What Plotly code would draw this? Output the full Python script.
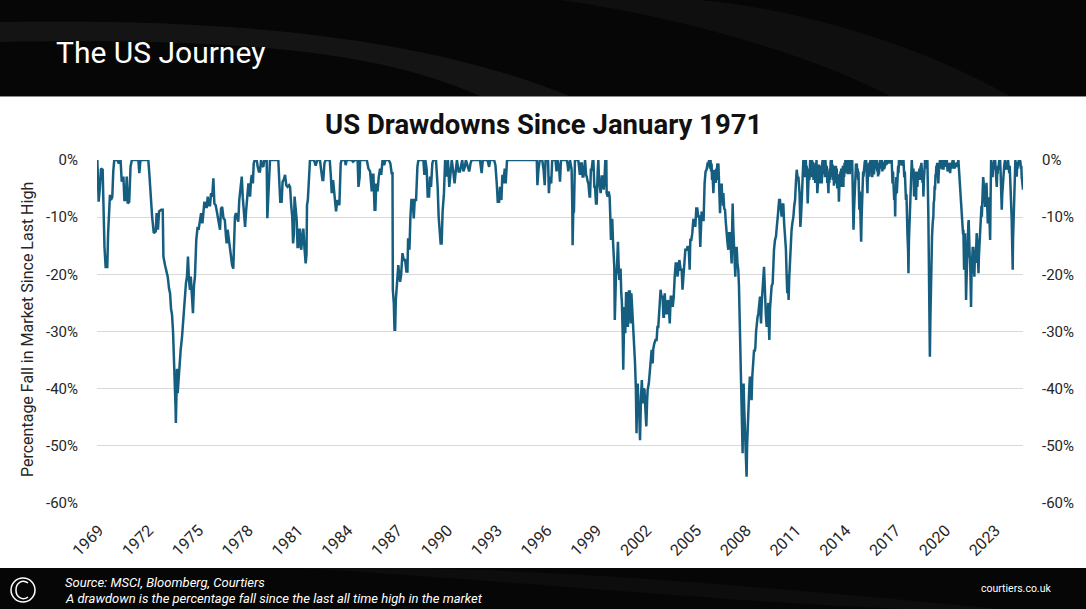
import plotly.graph_objects as go

# drawdown readings (year on the chart's axis, % fall from last high)
dd_1969_1983 = [
    (1968.90, 0.0), (1968.98, -7.3), (1969.05, -5.0), (1969.12, -1.5), (1969.22, -1.7), (1969.28, -9.9),
    (1969.33, -15.2), (1969.40, -18.7), (1969.50, -18.7), (1969.55, -12.8), (1969.60, -9.0), (1969.66, -6.1),
    (1969.72, -7.0), (1969.80, -6.5), (1969.86, -2.0), (1969.92, 0.0), (1970.10, 0.0), (1970.20, -0.6),
    (1970.30, 0.0), (1970.37, -3.8), (1970.47, -2.9), (1970.53, -7.0), (1970.61, -7.0), (1970.67, -2.9),
    (1970.73, -7.6), (1970.82, -7.3), (1970.90, -1.2), (1970.98, 0.0), (1971.37, 0.0), (1971.43, -2.3),
    (1971.50, 0.0), (1971.97, 0.0), (1972.03, -2.3), (1972.13, -7.0), (1972.20, -9.9), (1972.30, -12.8),
    (1972.42, -12.5), (1972.47, -9.3), (1972.55, -12.2), (1972.62, -9.0), (1972.75, -8.7), (1972.84, -8.7),
    (1972.88, -16.9), (1972.98, -18.4), (1973.06, -19.5), (1973.14, -20.4), (1973.22, -22.5), (1973.28, -23.3),
    (1973.34, -26.0), (1973.40, -27.1), (1973.46, -30.0), (1973.50, -32.9), (1973.56, -36.7), (1973.61, -43.1),
    (1973.63, -46.0), (1973.66, -37.9), (1973.70, -36.5), (1973.74, -40.8), (1973.80, -38.0), (1973.86, -36.7),
    (1973.92, -33.2), (1974.00, -31.0), (1974.04, -29.2), (1974.12, -26.0), (1974.18, -23.9), (1974.24, -21.5),
    (1974.30, -20.4), (1974.36, -16.9), (1974.42, -21.0), (1974.48, -22.7), (1974.53, -20.4), (1974.60, -24.0),
    (1974.66, -26.8), (1974.72, -22.0), (1974.78, -20.4), (1974.86, -14.0), (1974.94, -11.7), (1975.00, -12.2),
    (1975.08, -10.0), (1975.15, -9.3), (1975.23, -11.1), (1975.30, -9.0), (1975.35, -7.3), (1975.42, -8.2),
    (1975.49, -8.2), (1975.55, -6.4), (1975.62, -7.9), (1975.69, -7.9), (1975.75, -5.8), (1975.82, -6.4),
    (1975.89, -3.2), (1975.95, -7.6), (1976.03, -7.9), (1976.10, -9.0), (1976.15, -9.9), (1976.22, -11.0),
    (1976.29, -12.2), (1976.35, -8.5), (1976.42, -8.2), (1976.50, -10.2), (1976.58, -10.5), (1976.64, -13.0),
    (1976.69, -14.6), (1976.75, -12.2), (1976.82, -14.0), (1976.89, -15.7), (1976.95, -16.9), (1977.02, -18.4),
    (1977.09, -19.0), (1977.15, -15.0), (1977.19, -9.9), (1977.25, -9.3), (1977.32, -10.0), (1977.39, -10.8),
    (1977.45, -7.0), (1977.49, -5.5), (1977.55, -3.5), (1977.60, -2.9), (1977.66, -6.5), (1977.72, -8.2),
    (1977.80, -11.7), (1977.86, -9.0), (1977.92, -7.0), (1978.00, -4.1), (1978.06, -5.2), (1978.10, -6.4),
    (1978.16, -3.5), (1978.20, -2.6), (1978.27, -4.1), (1978.32, -0.6), (1978.38, 0.0), (1978.50, 0.0),
    (1978.56, -1.2), (1978.63, -2.0), (1978.70, -2.0), (1978.76, 0.0), (1978.84, -1.0), (1978.90, -1.2),
    (1978.96, 0.0), (1979.10, 0.0), (1979.14, -10.2), (1979.20, -6.0), (1979.24, -1.2), (1979.30, 0.0),
    (1979.80, 0.0), (1979.86, -3.5), (1979.92, -7.3), (1980.00, -7.3), (1980.06, -3.8), (1980.12, -3.5),
    (1980.21, -2.6), (1980.28, -4.4), (1980.36, -4.7), (1980.45, -4.4), (1980.51, -4.7), (1980.58, -8.0),
    (1980.64, -9.9), (1980.69, -14.6), (1980.74, -13.0), (1980.78, -6.4), (1980.84, -8.0), (1980.91, -10.5),
    (1980.96, -15.2), (1981.01, -15.2), (1981.06, -12.2), (1981.11, -12.2), (1981.18, -15.7), (1981.24, -14.0),
    (1981.31, -12.0), (1981.38, -15.5), (1981.45, -18.1), (1981.50, -16.5), (1981.53, -7.9), (1981.58, -7.0),
    (1981.65, -4.0), (1981.71, 0.0), (1981.95, 0.0), (1982.05, -1.0), (1982.15, 0.0), (1982.31, 0.0),
    (1982.38, -1.7), (1982.46, -3.5), (1982.51, -3.5), (1982.58, -0.6), (1982.65, 0.0), (1982.90, 0.0),
    (1982.97, -3.0), (1983.02, -5.8), (1983.10, -3.5), (1983.18, -6.1), (1983.22, -6.1), (1983.28, -9.0),
    (1983.36, -7.0), (1983.48, -7.9),
]

dd_1983_1996 = [
    (1983.56, -0.6), (1983.62, 0.0), (1983.82, 0.0), (1983.86, -0.9), (1983.92, 0.0), (1984.22, 0.0),
    (1984.30, -0.3), (1984.43, 0.0), (1984.58, 0.0), (1984.63, -4.7), (1984.70, -3.0), (1984.73, 0.0),
    (1985.13, 0.0), (1985.23, -1.5), (1985.33, -2.0), (1985.40, -5.5), (1985.43, -5.5), (1985.48, -2.6),
    (1985.53, -2.6), (1985.60, -8.7), (1985.65, -8.7), (1985.70, -4.1), (1985.78, -5.5), (1985.85, -3.0),
    (1985.93, -1.5), (1986.00, -2.6), (1986.08, 0.0), (1986.18, -0.9), (1986.25, 0.0), (1986.45, 0.0),
    (1986.55, -0.6), (1986.63, -2.3), (1986.68, -2.3), (1986.70, -22.7), (1986.76, -25.1), (1986.80, -29.7),
    (1986.84, -29.7), (1986.88, -24.5), (1986.94, -22.0), (1986.98, -21.6), (1987.03, -18.4), (1987.08, -20.0),
    (1987.14, -21.3), (1987.20, -20.1), (1987.28, -16.3), (1987.36, -17.5), (1987.44, -17.5), (1987.52, -19.5),
    (1987.58, -19.5), (1987.62, -13.7), (1987.70, -15.7), (1987.76, -9.9), (1987.82, -7.0), (1987.90, -7.0),
    (1987.96, -10.2), (1988.02, -7.0), (1988.10, -7.0), (1988.18, -1.2), (1988.24, 0.0), (1988.54, 0.0),
    (1988.60, -2.6), (1988.66, 0.0), (1988.74, -1.7), (1988.80, -6.4), (1988.88, -6.4), (1988.94, -2.9),
    (1989.00, -4.7), (1989.08, -0.6), (1989.14, 0.0), (1989.30, 0.0), (1989.40, -4.7), (1989.46, -9.9),
    (1989.52, -13.4), (1989.58, -14.6), (1989.64, -14.6), (1989.70, -9.0), (1989.78, -5.8), (1989.85, 0.0),
    (1989.95, -2.9), (1990.02, 0.0), (1990.10, -4.7), (1990.18, -2.0), (1990.25, 0.0), (1990.35, -2.3),
    (1990.42, -4.1), (1990.50, -1.7), (1990.56, 0.0), (1990.66, -2.0), (1990.74, -2.0), (1990.80, -1.2),
    (1990.88, 0.0), (1990.95, -2.0), (1991.04, -1.2), (1991.10, 0.0), (1991.30, -2.0), (1991.38, -0.6),
    (1991.45, 0.0), (1991.95, 0.0), (1992.05, -2.3), (1992.12, 0.0), (1992.40, 0.0), (1992.50, -1.2),
    (1992.56, 0.0), (1992.80, 0.0), (1992.88, -0.9), (1992.96, -4.1), (1993.02, -7.3), (1993.10, -7.3),
    (1993.16, -4.7), (1993.24, -7.0), (1993.30, -2.6), (1993.36, -4.1), (1993.44, -1.5), (1993.50, -4.1),
    (1993.58, 0.0), (1995.37, 0.0), (1995.41, -4.4), (1995.47, -1.7), (1995.55, 0.0), (1995.70, 0.0),
    (1995.78, -1.7), (1995.85, -4.4), (1995.90, 0.0), (1996.05, 0.0), (1996.10, -5.8), (1996.16, -2.9),
    (1996.24, -4.1), (1996.30, 0.0), (1996.50, 0.0), (1996.56, -2.0), (1996.62, 0.0),
]

dd_1996_2011 = [
    (1996.72, -1.5), (1996.77, -3.8), (1996.83, 0.0), (1997.17, 0.0), (1997.22, -0.6), (1997.27, -2.0),
    (1997.37, 0.0), (1997.47, -1.7), (1997.51, -8.0), (1997.53, -14.9), (1997.57, -9.0), (1997.61, -9.0),
    (1997.67, 0.0), (1997.87, 0.0), (1997.97, -2.6), (1998.03, -0.6), (1998.08, -0.6), (1998.13, -2.9),
    (1998.18, -2.9), (1998.24, 0.0), (1998.28, 0.0), (1998.34, -2.6), (1998.38, -2.9), (1998.44, -3.8),
    (1998.48, -4.1), (1998.55, -6.4), (1998.58, -6.4), (1998.63, -1.7), (1998.68, -1.7), (1998.74, 0.0),
    (1998.78, 0.0), (1998.84, -4.7), (1998.88, -4.7), (1998.94, -7.6), (1998.98, -7.6), (1999.04, -2.0),
    (1999.08, 0.0), (1999.12, -3.5), (1999.18, -5.8), (1999.22, -5.8), (1999.28, -2.9), (1999.34, -2.9),
    (1999.40, -5.2), (1999.44, -4.0), (1999.50, 0.0), (1999.56, 0.0), (1999.58, -5.8), (1999.64, -6.4),
    (1999.70, -5.5), (1999.76, -6.4), (1999.80, -9.9), (1999.84, -14.0), (1999.88, -10.5), (1999.92, -10.5),
    (1999.96, -14.0), (1999.99, -16.3), (2000.04, -18.7), (2000.07, -28.0), (2000.10, -24.0), (2000.14, -20.4),
    (2000.20, -19.0), (2000.26, -14.3), (2000.30, -18.0), (2000.34, -21.0), (2000.38, -19.2), (2000.42, -19.2),
    (2000.46, -23.3), (2000.50, -25.0), (2000.55, -30.9), (2000.58, -36.7), (2000.62, -30.0), (2000.65, -25.7),
    (2000.70, -30.3), (2000.75, -23.3), (2000.80, -23.3), (2000.86, -29.2), (2000.92, -23.0), (2000.98, -23.0),
    (2001.03, -28.6), (2001.07, -23.3), (2001.12, -26.0), (2001.19, -29.7), (2001.25, -33.0), (2001.29, -35.6),
    (2001.34, -40.0), (2001.38, -47.8), (2001.42, -41.0), (2001.45, -39.1), (2001.50, -43.1), (2001.55, -45.0),
    (2001.59, -49.0), (2001.62, -43.0), (2001.65, -41.4), (2001.70, -38.5), (2001.75, -42.6), (2001.80, -40.0),
    (2001.86, -40.2), (2001.92, -44.0), (2001.97, -46.6), (2002.02, -42.0), (2002.05, -40.2), (2002.12, -39.1),
    (2002.18, -37.0), (2002.23, -35.6), (2002.29, -33.2), (2002.35, -35.6), (2002.39, -33.0), (2002.45, -32.1),
    (2002.52, -31.5), (2002.59, -31.5), (2002.64, -29.2), (2002.69, -29.2), (2002.75, -25.7), (2002.79, -25.7),
    (2002.83, -22.7), (2002.88, -23.9), (2002.95, -23.9), (2003.00, -27.4), (2003.03, -27.4), (2003.08, -23.3),
    (2003.14, -26.8), (2003.20, -26.8), (2003.26, -24.5), (2003.32, -25.0), (2003.38, -28.6), (2003.44, -23.9),
    (2003.50, -23.9), (2003.56, -25.7), (2003.62, -24.0), (2003.68, -20.4), (2003.74, -18.1), (2003.80, -18.1),
    (2003.85, -20.4), (2003.90, -19.0), (2003.96, -17.5), (2004.04, -19.2), (2004.10, -19.2), (2004.15, -22.7),
    (2004.20, -21.0), (2004.26, -18.1), (2004.32, -15.7), (2004.40, -15.7), (2004.45, -15.2), (2004.52, -15.2),
    (2004.58, -19.2), (2004.62, -14.0), (2004.68, -14.0), (2004.74, -12.8), (2004.80, -10.5), (2004.86, -10.5),
    (2004.92, -11.7), (2004.98, -8.5), (2005.04, -8.5), (2005.10, -9.9), (2005.16, -9.9), (2005.22, -15.2),
    (2005.26, -9.0), (2005.30, -9.0), (2005.36, -10.5), (2005.42, -10.5), (2005.48, -4.1), (2005.54, -2.0),
    (2005.60, -1.7), (2005.66, -0.6), (2005.71, -0.6), (2005.76, 0.0), (2005.80, -1.5), (2005.84, 0.0),
    (2005.87, -2.0), (2005.90, -0.6), (2005.93, -3.5), (2005.96, -2.5), (2006.01, -5.8), (2006.04, -3.0),
    (2006.06, -1.7), (2006.09, -3.5), (2006.11, -1.7), (2006.14, -4.0), (2006.16, -3.5), (2006.19, -1.5),
    (2006.21, -3.5), (2006.24, -1.0), (2006.26, -0.6), (2006.29, -2.5), (2006.31, -0.6), (2006.34, -3.0),
    (2006.36, -5.0), (2006.41, -9.3), (2006.44, -6.0), (2006.46, -4.1), (2006.49, -6.5), (2006.51, -4.1),
    (2006.54, -7.0), (2006.56, -5.8), (2006.59, -8.0), (2006.61, -5.8), (2006.66, -8.5), (2006.71, -8.7),
    (2006.76, -11.0), (2006.81, -13.4), (2006.86, -14.5), (2006.91, -15.7), (2006.96, -12.8), (2007.01, -12.8),
    (2007.06, -16.0), (2007.11, -18.1), (2007.14, -12.0), (2007.17, -7.6), (2007.21, -12.0), (2007.25, -15.2),
    (2007.29, -18.0), (2007.33, -20.4), (2007.37, -16.0), (2007.41, -15.2), (2007.46, -18.0), (2007.51, -19.2),
    (2007.55, -22.0), (2007.57, -24.5), (2007.61, -33.2), (2007.65, -36.0), (2007.67, -39.1), (2007.71, -44.9),
    (2007.75, -48.0), (2007.77, -51.3), (2007.80, -42.0), (2007.83, -39.1), (2007.87, -43.7), (2007.91, -46.6),
    (2007.96, -50.0), (2008.01, -55.4), (2008.04, -50.0), (2008.07, -46.6), (2008.10, -44.0), (2008.13, -42.6),
    (2008.17, -40.0), (2008.21, -37.9), (2008.26, -40.5), (2008.31, -42.0), (2008.35, -38.0), (2008.38, -36.2),
    (2008.42, -34.0), (2008.46, -33.2), (2008.50, -33.5), (2008.54, -32.7), (2008.58, -30.0), (2008.62, -28.6),
    (2008.67, -27.5), (2008.72, -26.8), (2008.77, -25.0), (2008.82, -23.9), (2008.85, -27.0), (2008.88, -28.6),
    (2008.92, -25.0), (2008.96, -23.3), (2009.01, -20.5), (2009.06, -18.7), (2009.09, -21.0), (2009.12, -24.5),
    (2009.17, -27.0), (2009.22, -29.2), (2009.27, -26.0), (2009.32, -25.0), (2009.35, -29.0), (2009.38, -31.5),
    (2009.42, -26.0), (2009.46, -23.9), (2009.52, -22.0), (2009.58, -21.6), (2009.62, -18.0), (2009.66, -15.7),
    (2009.72, -14.0), (2009.78, -13.4), (2009.82, -12.0), (2009.86, -11.1), (2009.90, -9.5), (2009.92, -8.7),
    (2009.97, -7.0), (2010.02, -7.0), (2010.07, -9.5), (2010.12, -9.9), (2010.17, -8.0), (2010.22, -7.6),
    (2010.27, -11.0), (2010.32, -12.8), (2010.35, -14.5), (2010.38, -15.7), (2010.42, -20.0), (2010.46, -23.3),
    (2010.50, -20.0), (2010.54, -24.5), (2010.58, -20.5), (2010.62, -17.5), (2010.67, -14.0), (2010.72, -12.2),
    (2010.77, -11.0), (2010.83, -9.9), (2010.88, -8.0), (2010.93, -7.0), (2010.98, -4.0), (2011.03, -1.7),
    (2011.08, -3.0), (2011.13, -2.9),
]

dd_2011_2024 = [
    (2011.20, -5.8), (2011.25, -11.7), (2011.30, -9.3), (2011.33, -7.6), (2011.38, -3.0), (2011.43, 0.0),
    (2011.46, -2.5), (2011.48, -0.5), (2011.51, -3.0), (2011.53, -1.0), (2011.56, -2.0), (2011.58, 0.0),
    (2011.61, -2.5), (2011.63, -1.0), (2011.66, -4.0), (2011.69, -7.6), (2011.72, -5.0), (2011.74, -3.5),
    (2011.77, -1.5), (2011.79, -3.5), (2011.82, -1.0), (2011.84, 0.0), (2011.87, -2.5), (2011.90, -0.5),
    (2011.93, -3.0), (2011.95, 0.0), (2011.98, -2.0), (2012.00, -0.3), (2012.04, -3.5), (2012.07, -0.8),
    (2012.09, -3.0), (2012.12, -1.0), (2012.14, -4.0), (2012.17, -0.5), (2012.19, -2.0), (2012.22, 0.0),
    (2012.24, -2.5), (2012.27, -5.8), (2012.30, -4.5), (2012.33, -1.5), (2012.35, -3.5), (2012.38, -0.8),
    (2012.40, -3.2), (2012.43, -1.0), (2012.45, -4.1), (2012.48, -1.5), (2012.50, -3.8), (2012.52, -1.0),
    (2012.54, -4.1), (2012.57, -0.5), (2012.59, 0.0), (2012.62, -2.0), (2012.64, 0.0), (2012.67, -2.5),
    (2012.70, -0.5), (2012.73, -3.0), (2012.76, 0.0), (2012.80, -2.5), (2012.84, -1.0), (2012.87, -4.0),
    (2012.89, -2.0), (2012.92, -4.5), (2012.94, -5.8), (2012.97, -2.0), (2012.99, -4.0), (2013.02, -1.5),
    (2013.04, -3.5), (2013.07, -0.5), (2013.09, 0.0), (2013.12, -2.5), (2013.14, 0.0), (2013.17, -3.0),
    (2013.19, -0.8), (2013.22, -3.5), (2013.24, -1.0), (2013.27, -4.5), (2013.29, -2.0), (2013.32, -4.1),
    (2013.34, -1.5), (2013.37, -3.8), (2013.39, -1.0), (2013.42, -4.0), (2013.44, -1.5), (2013.47, -5.0),
    (2013.49, -2.5), (2013.52, -4.7), (2013.54, -3.0), (2013.57, -7.3), (2013.60, -5.0), (2013.62, -2.5),
    (2013.64, -4.5), (2013.66, -2.0), (2013.68, -4.1), (2013.71, -1.5), (2013.74, -4.7), (2013.76, -2.0),
    (2013.79, -4.7), (2013.81, -1.0), (2013.84, -4.7), (2013.86, -1.5), (2013.89, -3.0), (2013.91, -0.5),
    (2013.94, -2.3), (2013.96, 0.0), (2013.99, -1.5), (2014.02, 0.0), (2014.04, -2.0), (2014.07, 0.0),
    (2014.10, -2.5), (2014.13, 0.0), (2014.16, -1.5), (2014.19, 0.0), (2014.22, -2.5), (2014.25, 0.0),
    (2014.28, -1.5), (2014.31, 0.0), (2014.34, -2.0), (2014.37, 0.0), (2014.40, -5.0), (2014.45, -12.2),
    (2014.48, -9.0), (2014.50, -6.0), (2014.53, -8.2), (2014.55, -4.0), (2014.58, -2.0), (2014.60, -0.6),
    (2014.63, -2.5), (2014.65, -0.6), (2014.68, -3.0), (2014.70, -1.5), (2014.73, -3.5), (2014.75, -2.0),
    (2014.78, -6.0), (2014.80, -8.7), (2014.83, -5.5), (2014.85, -8.7), (2014.88, -12.0), (2014.91, -14.3),
    (2014.94, -10.0), (2014.96, -8.0), (2014.99, -4.0), (2015.01, -5.8), (2015.03, -2.0), (2015.05, -2.9),
    (2015.07, -1.0), (2015.09, -2.9), (2015.12, -0.5), (2015.15, 0.0), (2015.18, -2.0), (2015.21, 0.0),
    (2015.25, -2.0), (2015.29, -5.8), (2015.32, -2.0), (2015.35, -2.9), (2015.38, -0.5), (2015.41, -2.9),
    (2015.44, -0.5), (2015.48, 0.0), (2015.51, -2.0), (2015.55, 0.0), (2015.58, -3.0), (2015.60, -0.8),
    (2015.63, -2.3), (2015.65, 0.0), (2015.68, -2.5), (2015.70, -0.5), (2015.73, -1.5), (2015.75, 0.0),
    (2015.78, -1.5), (2015.80, 0.0), (2015.83, -1.2), (2015.85, 0.0), (2015.88, -2.0), (2015.90, -0.5),
    (2015.93, -2.9), (2015.95, -1.0), (2015.98, -2.5), (2016.00, -0.5), (2016.03, -1.7), (2016.05, 0.0),
    (2016.08, -1.5), (2016.10, 0.0), (2016.13, -1.0), (2016.15, 0.0), (2016.19, -2.0), (2016.22, -0.5),
    (2016.26, -1.7), (2016.29, -0.3), (2016.32, -1.5), (2016.35, 0.0), (2016.38, -1.0), (2016.41, 0.0),
    (2016.45, -0.8), (2016.48, 0.0), (2016.55, 0.0), (2016.60, -0.6), (2016.65, 0.0), (2016.75, 0.0),
    (2016.78, -2.5), (2016.80, -4.1), (2016.83, -2.0), (2016.85, -4.1), (2016.88, -5.0), (2016.90, -7.0),
    (2016.93, -5.0), (2016.96, -9.9), (2016.98, -6.0), (2017.01, -5.8), (2017.03, -3.0), (2017.06, -5.8),
    (2017.09, -2.0), (2017.11, -3.5), (2017.14, -1.0), (2017.16, -2.3), (2017.19, 0.0), (2017.21, -1.0),
    (2017.26, 0.0), (2017.31, -0.8), (2017.36, 0.0), (2017.41, -1.0), (2017.46, 0.0), (2017.49, -1.5),
    (2017.51, -3.0), (2017.54, -2.0), (2017.56, -5.2), (2017.59, -3.5), (2017.61, -7.0), (2017.64, -6.0),
    (2017.66, -9.9), (2017.70, -13.0), (2017.74, -16.0), (2017.76, -19.8), (2017.79, -14.0), (2017.81, -12.0),
    (2017.84, -8.0), (2017.86, -7.0), (2017.89, -4.0), (2017.91, -3.0), (2017.94, -1.0), (2017.96, 0.0),
    (2018.00, -2.0), (2018.03, -3.0), (2018.06, -1.5), (2018.10, -6.4), (2018.13, -3.0), (2018.16, -4.0),
    (2018.19, -2.0), (2018.22, -7.0), (2018.24, -4.0), (2018.26, -4.7), (2018.28, -2.5), (2018.30, -4.7),
    (2018.34, -2.0), (2018.38, -3.5), (2018.42, -1.5), (2018.46, -3.5), (2018.49, -1.0), (2018.51, -1.7),
    (2018.54, -0.5), (2018.56, -1.7), (2018.59, -2.5), (2018.61, -4.0), (2018.64, -3.0), (2018.66, -6.4),
    (2018.69, -3.5), (2018.71, -2.0), (2018.74, -0.5), (2018.76, 0.0), (2018.80, -1.5), (2018.84, 0.0),
    (2018.87, -1.0), (2018.90, 0.0), (2018.96, -9.9), (2019.00, -18.0), (2019.02, -26.8), (2019.05, -34.4),
    (2019.08, -28.0), (2019.12, -20.4), (2019.15, -16.0), (2019.18, -13.4), (2019.22, -11.0), (2019.26, -9.9),
    (2019.28, -7.5), (2019.31, -7.0), (2019.34, -4.5), (2019.36, -5.2), (2019.39, -2.5), (2019.41, -3.0),
    (2019.44, -1.0), (2019.46, -1.7), (2019.49, -0.5), (2019.51, -3.0), (2019.54, -1.5), (2019.56, -4.1),
    (2019.59, -2.0), (2019.61, -1.5), (2019.64, -0.3), (2019.66, 0.0), (2019.70, -1.5), (2019.73, 0.0),
    (2019.76, -1.0), (2019.79, 0.0), (2019.82, -1.7), (2019.85, -0.5), (2019.87, -1.7), (2019.90, 0.0),
    (2019.94, -1.2), (2019.97, 0.0), (2020.02, -1.0), (2020.07, 0.0), (2020.12, -2.0), (2020.17, -1.5),
    (2020.22, -0.5), (2020.27, -2.3), (2020.31, -1.0), (2020.35, -0.5), (2020.38, -1.5), (2020.42, 0.0),
    (2020.47, 0.0), (2020.52, -1.5), (2020.57, -1.2), (2020.62, -0.5), (2020.67, -1.2), (2020.72, -0.3),
    (2020.77, 0.0), (2020.80, -1.5), (2020.82, -2.5), (2020.85, -3.5), (2020.87, -4.1), (2020.90, -4.5),
    (2020.92, -6.5), (2020.95, -8.0), (2020.97, -9.9), (2021.00, -10.5), (2021.02, -11.7), (2021.05, -13.0),
    (2021.07, -12.2), (2021.09, -16.0), (2021.11, -19.2), (2021.14, -14.0), (2021.17, -12.8), (2021.20, -18.0),
    (2021.23, -24.5), (2021.25, -22.0), (2021.27, -20.0), (2021.29, -17.5), (2021.31, -16.3), (2021.33, -12.0),
    (2021.35, -13.0), (2021.37, -11.0), (2021.39, -10.5), (2021.41, -14.0), (2021.43, -13.0), (2021.45, -17.0),
    (2021.47, -16.9), (2021.50, -21.0), (2021.53, -25.7), (2021.56, -20.0), (2021.59, -16.9), (2021.61, -18.0),
    (2021.63, -15.2), (2021.65, -17.0), (2021.67, -15.2), (2021.70, -19.0), (2021.73, -20.4), (2021.76, -17.0),
    (2021.79, -15.7), (2021.81, -18.0), (2021.83, -14.5), (2021.85, -16.0), (2021.87, -12.8), (2021.90, -14.0),
    (2021.92, -16.0), (2021.95, -18.0), (2021.98, -19.8), (2022.00, -17.0), (2022.03, -15.0), (2022.06, -13.0),
    (2022.08, -13.4), (2022.11, -11.0), (2022.13, -11.0), (2022.16, -8.0), (2022.18, -9.9), (2022.21, -7.0),
    (2022.23, -6.0), (2022.26, -3.0), (2022.28, -3.5), (2022.31, -5.0), (2022.33, -6.0), (2022.36, -7.0),
    (2022.38, -8.2), (2022.41, -5.0), (2022.43, -6.0), (2022.46, -4.0), (2022.48, -5.8), (2022.51, -8.0),
    (2022.54, -11.1), (2022.56, -7.5), (2022.58, -9.0), (2022.60, -6.5), (2022.62, -8.7), (2022.65, -11.0),
    (2022.68, -14.0), (2022.71, -6.0), (2022.74, 0.0), (2022.77, -2.5), (2022.80, -1.5), (2022.83, -3.0),
    (2022.86, -0.5), (2022.88, -1.7), (2022.90, -0.5), (2022.93, 0.0), (2022.96, -1.5), (2022.98, 0.0),
    (2023.01, -1.5), (2023.03, -2.0), (2023.06, -3.5), (2023.08, -4.7), (2023.11, -2.0), (2023.13, -2.5),
    (2023.16, -1.0), (2023.18, -1.7), (2023.21, -0.5), (2023.23, 0.0), (2023.26, -1.5), (2023.28, 0.0),
    (2023.31, -2.0), (2023.33, -4.0), (2023.36, -6.0), (2023.38, -8.7), (2023.41, -6.0), (2023.43, -5.0),
    (2023.46, -3.0), (2023.48, -2.9), (2023.51, -1.5), (2023.53, -1.0), (2023.56, -0.3), (2023.58, 0.0),
    (2023.61, -1.5), (2023.63, -1.7), (2023.66, -0.5), (2023.68, -1.7), (2023.71, -0.3), (2023.73, -0.6),
    (2023.76, 0.0), (2023.78, -0.6), (2023.81, -1.5), (2023.83, -2.3), (2023.86, -1.0), (2023.88, -2.3),
    (2023.91, -3.5), (2023.93, -6.0), (2023.96, -8.0), (2023.98, -10.5), (2024.01, -15.0), (2024.04, -19.2),
    (2024.06, -14.0), (2024.08, -12.0), (2024.10, -9.0), (2024.12, -7.6), (2024.14, -4.5), (2024.16, -3.0),
    (2024.18, -1.0), (2024.20, 0.0), (2024.22, -1.0), (2024.24, -1.5), (2024.26, -0.5), (2024.28, -2.9),
    (2024.31, -1.0), (2024.33, -1.5), (2024.36, -0.3), (2024.38, -0.6), (2024.41, 0.0), (2024.43, 0.0),
    (2024.46, -1.0), (2024.48, 0.0), (2024.51, -0.5), (2024.53, -1.5), (2024.56, -1.0), (2024.58, -2.9),
    (2024.60, -3.5), (2024.62, -5.2), (2024.66, -5.2),
]

tick_years = [1969, 1972, 1975, 1978, 1981, 1984, 1987, 1990, 1993, 1996,
              1999, 2002, 2005, 2008, 2011, 2014, 2017, 2020, 2023]
tick_labels = ["1969", "1972", "1975", "1978", "1981", "1984", "1987", "1990", "1993", "1996",
               "1999", "2002", "2005", "2008", "2011", "2014", "2017", "2020", "2023"]
pct_ticks = [0, -10, -20, -30, -40, -50, -60]
pct_labels = ["0%", "-10%", "-20%", "-30%", "-40%", "-50%", "-60%"]

points = dd_1969_1983 + dd_1983_1996 + dd_1996_2011 + dd_2011_2024
years = [p[0] for p in points]
drawdown = [p[1] for p in points]

W, H = 1086, 609
L, R, T, B = 97, 1023, 160, 503
LINE = "#165E80"
TXT = "#262626"


def px(x):
    return (x - L) / (R - L)


def py(y):
    return (B - y) / (B - T)


def pt(x, y):
    return f"{px(x):.4f},{py(y):.4f}"


fig = go.Figure()
fig.add_trace(go.Scatter(
    x=years, y=drawdown, mode="lines",
    line=dict(color=LINE, width=2.5),
    hoverinfo="skip", showlegend=False,
))
# empty trace so the mirrored right-hand axis gets drawn
fig.add_trace(go.Scatter(
    x=[years[0]], y=[drawdown[0]], yaxis="y2", mode="markers",
    marker=dict(opacity=0), hoverinfo="skip", showlegend=False,
))

axis_font = dict(family="Roboto", size=15, color=TXT)
fig.update_layout(
    width=W, height=H, autosize=False,
    margin=dict(l=L, r=W - R, t=T, b=H - B),
    paper_bgcolor="white", plot_bgcolor="white",
    font=dict(family="Roboto", color=TXT),
    xaxis=dict(
        range=[1968.88, 2024.66], tickmode="array", tickvals=tick_years, ticktext=tick_labels,
        tickangle=-45, tickfont=dict(family="Roboto", size=16, color=TXT),
        showgrid=False, zeroline=False, showline=False, ticks="", ticklabelstandoff=14,
    ),
    yaxis=dict(
        range=[-60, 0], tickmode="array", tickvals=pct_ticks, ticktext=pct_labels,
        tickfont=axis_font, showgrid=True, gridcolor="#d9d9d9", gridwidth=1,
        zeroline=False, showline=False, ticks="", ticklabelstandoff=18,
    ),
    yaxis2=dict(
        range=[-60, 0], tickmode="array", tickvals=pct_ticks, ticktext=pct_labels,
        tickfont=axis_font, overlaying="y", side="right", showgrid=False,
        zeroline=False, showline=False, ticks="", ticklabelstandoff=18,
    ),
)

shapes = [
    # header band
    dict(type="rect", x0=px(0), x1=px(W), y0=py(96), y1=py(0), fillcolor="#060606", line_width=0),
    dict(type="path", path=f"M {pt(0,22)} C {pt(250,18)} {pt(430,40)} {pt(570,96)} L {pt(480,96)} "
                           f"C {pt(380,52)} {pt(250,38)} {pt(0,42)} Z",
         fillcolor="rgba(255,255,255,0.06)", line_width=0),
    dict(type="path", path=f"M {pt(560,0)} C {pt(700,20)} {pt(820,60)} {pt(890,96)} L {pt(1010,96)} "
                           f"C {pt(910,40)} {pt(790,8)} {pt(700,0)} Z",
         fillcolor="rgba(255,255,255,0.04)", line_width=0),
    dict(type="line", x0=px(0), x1=px(W), y0=py(96.5), y1=py(96.5), line=dict(color="#8a8a8a", width=1)),
    # footer band
    dict(type="rect", x0=px(0), x1=px(W), y0=py(H), y1=py(568), fillcolor="#060606", line_width=0),
    dict(type="path", path=f"M {pt(300,568)} C {pt(500,580)} {pt(700,600)} {pt(900,609)} L {pt(1000,609)} "
                           f"C {pt(800,590)} {pt(600,572)} {pt(420,568)} Z",
         fillcolor="rgba(255,255,255,0.03)", line_width=0),
    # logo
    dict(type="circle", x0=px(11), x1=px(35), y0=py(602), y1=py(578), line=dict(color="white", width=1.5)),
    dict(type="path", path=f"M {pt(28,583)} C {pt(22,579)} {pt(16,583)} {pt(16,590)} "
                           f"C {pt(16,597)} {pt(22,601)} {pt(28,597)}",
         line=dict(color="white", width=1.5)),
]
for s in shapes:
    s.update(xref="paper", yref="paper")
fig.update_layout(shapes=shapes)

annotations = [
    dict(text="The US Journey", x=px(54), y=py(52), xanchor="left", yanchor="middle",
         font=dict(family="Roboto", size=30, color="white")),
    dict(text="<b>US Drawdowns Since January 1971</b>", x=px(543), y=py(124), xanchor="center",
         yanchor="middle", font=dict(family="Roboto", size=27.5, color="#111111")),
    dict(text="Percentage Fall in Market Since Last High", x=px(27), y=py(330), textangle=-90,
         xanchor="center", yanchor="middle", font=dict(family="Roboto", size=16, color=TXT)),
    dict(text="<i>Source: MSCI, Bloomberg, Courtiers</i>", x=px(63), y=py(582), xanchor="left",
         yanchor="middle", font=dict(family="Roboto", size=13, color="white")),
    dict(text="<i>A drawdown is the percentage fall since the last all time high in the market</i>",
         x=px(63), y=py(598), xanchor="left", yanchor="middle",
         font=dict(family="Roboto", size=13, color="white")),
    dict(text="courtiers.co.uk", x=px(1053), y=py(588), xanchor="right", yanchor="middle",
         font=dict(family="Roboto", size=10.5, color="white")),
]
for a in annotations:
    a.update(xref="paper", yref="paper", showarrow=False)
fig.update_layout(annotations=annotations)

fig.write_html("out.html", config={"displayModeBar": False},
               post_script="document.body.style.margin='0';")
